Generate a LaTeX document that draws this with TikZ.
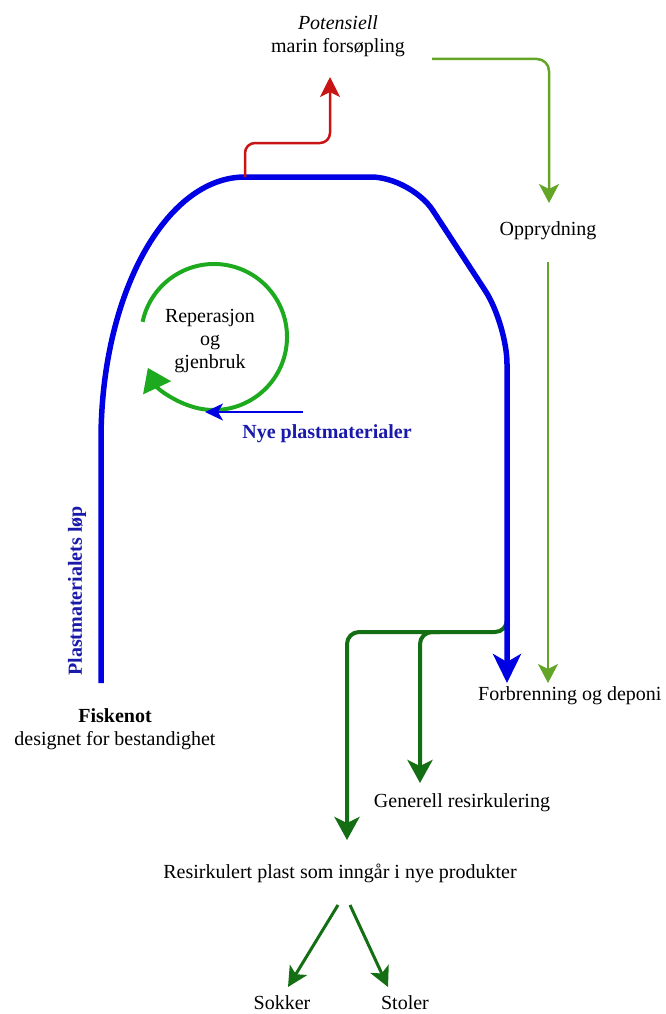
\documentclass[tikz,border=0pt]{standalone}
\usepackage{fontspec}
\setmainfont{Liberation Serif}
\usetikzlibrary{arrows.meta}
\definecolor{flowblue}{RGB}{0,0,228}
\definecolor{labelblue}{RGB}{25,25,170}
\definecolor{leakred}{RGB}{200,20,20}
\definecolor{cleangreen}{RGB}{100,165,40}
\definecolor{loopgreen}{RGB}{30,170,30}
\definecolor{recgreen}{RGB}{20,110,20}
\begin{document}
\begin{tikzpicture}[x=1pt,y=-1pt,
  lbl/.style={font=\fontsize{20}{23}\selectfont, inner sep=0pt, align=center},
  bluelbl/.style={lbl, font=\fontsize{20}{23}\selectfont\bfseries, text=labelblue},
  flow/.style={draw=flowblue, line width=5.5pt, -{Stealth[length=29pt,width=28pt,inset=8pt]}},
  leak/.style={draw=leakred, line width=2.5pt, -{Stealth[length=20pt,width=20pt,inset=5pt]}},
  clean/.style={draw=cleangreen, line width=2.5pt, -{Stealth[length=19pt,width=20pt,inset=5pt]}},
  reuse/.style={draw=loopgreen, line width=4pt, -{Triangle[length=22pt,width=30pt]}},
  newmat/.style={draw=flowblue, line width=2pt, -{Stealth[length=18pt,width=17pt,inset=5pt]}},
  recyc/.style={draw=recgreen, line width=4pt, -{Stealth[length=23pt,width=25pt,inset=6pt]}},
  prod/.style={draw=recgreen, line width=3pt, -{Stealth[length=20pt,width=20pt,inset=5pt]}}]
\useasboundingbox (0,0) rectangle (666,1014);

% text labels
\node[lbl] (pot) at (338,36) {\textit{Potensiell}\\marin forsøpling};
\node[lbl] (opp) at (548,231) {Opprydning};
\node[lbl, anchor=west] (forb) at (478,696) {Forbrenning og deponi};
\node[lbl] (rep) at (210,341) {Reperasjon\\og\\gjenbruk};
\node[bluelbl] (nye) at (327,434) {Nye plastmaterialer};
\node[bluelbl, rotate=90] (lop) at (77,591) {Plastmaterialets løp};
\node[lbl] (fisk) at (115,729) {\textbf{Fiskenot}\\designet for bestandighet};
\node[lbl] (gen) at (462,803) {Generell resirkulering};
\node[lbl] (res) at (340,873) {Resirkulert plast som inngår i nye produkter};
\node[lbl] (sok) at (282,1003) {Sokker};
\node[lbl] (sto) at (405,1003) {Stoler};

% connector end points
\coordinate (netbase) at (101,683);
\coordinate (leakfrom) at (245,177);
\coordinate (leakto) at (330,77);
\coordinate (burnblue) at (507,683);
\coordinate (cleanfrom) at (432,59);
\coordinate (cleanto) at (549,203);
\coordinate (cleanagain) at (548,262);
\coordinate (burngreen) at (548,683);
\coordinate (split) at (507,622);
\coordinate (toproducts) at (347,840);
\coordinate (togeneral) at (420,783);
\coordinate (newfrom) at (303,412);
\coordinate (newto) at (205,412);
\coordinate (loopc) at (214,337);
\coordinate (resL) at (338,905);
\coordinate (resR) at (350,905);
\coordinate (sokTop) at (288,987);
\coordinate (stoTop) at (388,987);

% recycling branches (under the main flow)
\draw[recyc, rounded corners=12pt] (split) -- (507,632) -- (347,632) -- (toproducts);
\draw[recyc, rounded corners=12pt] (440,632) -- (420,632) -- (togeneral);

% main life cycle of the net
\draw[flow] (netbase) -- (101,440)
  arc[start angle=180, end angle=270, x radius=144, y radius=263]
  [rounded corners=40pt] -- (411,177) -- (507,324) -- (burnblue);

% leakage to the sea
\draw[leak, rounded corners=10pt] (leakfrom) -- (245,143) -- (330,143) -- (leakto);

% clean-up
\draw[clean, rounded corners=12pt] (cleanfrom) -- (549,59) -- (cleanto);
\draw[clean] (cleanagain) -- (burngreen);

% repair and reuse loop
\draw[reuse] (loopc) ++(-168:73) arc[start angle=-168, end angle=155, radius=73];

% new plastic input
\draw[newmat] (newfrom) -- (newto);

% products
\draw[prod] (resL) -- (sokTop);
\draw[prod] (resR) -- (stoTop);
\end{tikzpicture}
\end{document}
